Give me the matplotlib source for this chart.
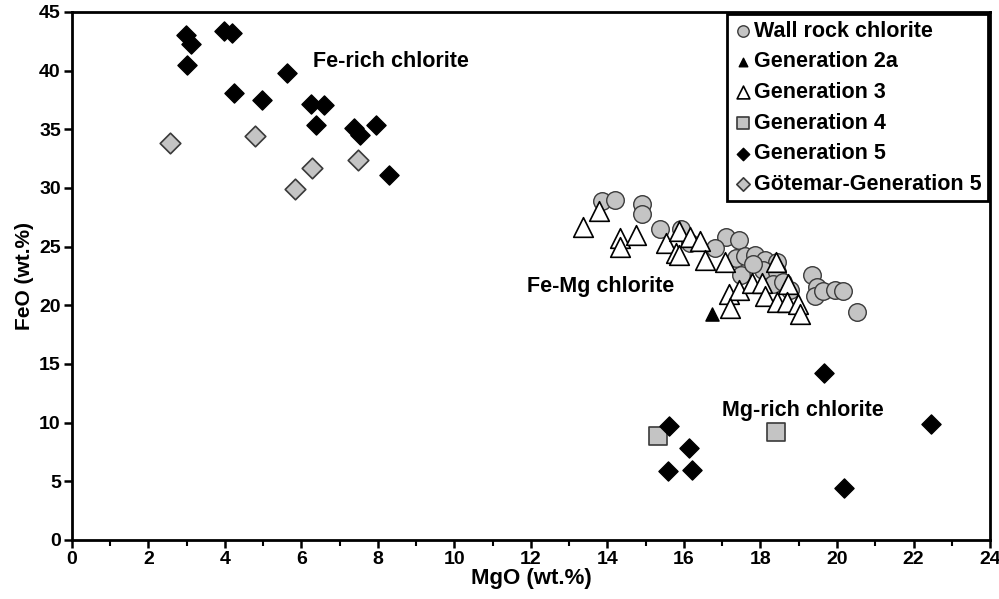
import numpy as np
import matplotlib.pyplot as plt

# Chlorite compositions, MgO vs FeO (wt.%)
wall_mgo = [13.86, 14.20, 14.90, 14.90, 15.38, 15.93, 16.15, 17.11, 17.43, 16.80,
            17.37, 17.59, 17.85, 18.12, 18.42, 17.50, 18.07, 18.42, 18.33, 19.34,
            19.47, 19.43, 19.64, 19.95, 20.17, 20.52, 17.81, 18.60, 18.77]
wall_feo = [28.9, 29.0, 28.6, 27.8, 26.5, 26.5, 25.3, 25.8, 25.6, 24.9,
            24.0, 24.2, 24.3, 23.9, 23.7, 22.6, 23.0, 22.8, 21.8, 22.6,
            21.6, 20.8, 21.2, 21.3, 21.2, 19.4, 23.5, 22.0, 21.3]

gen2a_mgo = [16.72]
gen2a_feo = [19.3]

gen3_mgo = [13.36, 13.79, 14.32, 14.32, 14.75, 15.54, 15.87, 15.80, 15.86, 16.15,
            16.41, 16.54, 17.07, 18.40, 17.18, 17.44, 17.77, 18.03, 18.73, 18.12,
            18.42, 18.68, 18.99, 19.03, 17.20]
gen3_feo = [26.7, 28.0, 25.7, 25.0, 26.0, 25.3, 26.3, 24.5, 24.3, 25.8,
            25.5, 23.9, 23.7, 23.7, 21.0, 21.3, 21.9, 21.9, 21.8, 20.8,
            20.3, 20.3, 20.1, 19.3, 19.8]

gen4_mgo = [15.32, 18.40]
gen4_feo = [8.9, 9.2]

gen5_mgo = [2.99, 3.12, 3.01, 3.97, 4.18, 4.23, 4.97, 5.62, 6.25, 6.60,
            6.37, 7.37, 7.52, 7.94, 8.29,
            19.67, 22.46, 15.61, 16.12, 15.59, 16.22, 20.18]
gen5_feo = [43.0, 42.3, 40.5, 43.4, 43.2, 38.1, 37.5, 39.8, 37.2, 37.1,
            35.4, 35.1, 34.5, 35.4, 31.1,
            14.2, 9.9, 9.7, 7.8, 5.9, 6.0, 4.4]

got_mgo = [2.57, 4.79, 5.84, 6.28, 7.49]
got_feo = [33.8, 34.4, 29.9, 31.7, 32.4]

x_ticks = np.arange(0, 25, 2)
y_ticks = np.arange(0, 46, 5)

plt.rcParams['font.family'] = ['Liberation Sans', 'DejaVu Sans']

fig = plt.figure(figsize=(9.99, 5.99), dpi=100)
ax = fig.add_axes([0.072, 0.0985, 0.919, 0.8815])

grey = '#c4c4c4'
edge = '#3a3a3a'
ax.scatter(wall_mgo, wall_feo, s=160, marker='o', facecolor=grey, edgecolor=edge,
           linewidth=1.0, label='Wall rock chlorite', zorder=3)
ax.scatter(gen3_mgo, gen3_feo, s=200, marker='^', facecolor='white', edgecolor='black',
           linewidth=1.2, label='Generation 3', zorder=4)
ax.scatter(gen2a_mgo, gen2a_feo, s=90, marker='^', facecolor='black', edgecolor='black',
           label='Generation 2a', zorder=5)
ax.scatter(gen4_mgo, gen4_feo, s=150, marker='s', facecolor=grey, edgecolor=edge,
           linewidth=1.2, label='Generation 4', zorder=5)
ax.scatter(got_mgo, got_feo, s=110, marker='D', facecolor=grey, edgecolor=edge,
           linewidth=1.2, label='Götemar-Generation 5', zorder=5)
ax.scatter(gen5_mgo, gen5_feo, s=95, marker='D', facecolor='black', edgecolor='black',
           label='Generation 5', zorder=6)

ax.set_xlim(0, 24)
ax.set_ylim(0, 45)
ax.set_xticks(x_ticks, [str(v) for v in x_ticks], fontweight='bold', fontsize=14)
ax.set_xticks(np.arange(0, 25, 1), minor=True)
ax.set_yticks(y_ticks, [str(v) for v in y_ticks], fontweight='bold', fontsize=14)
ax.tick_params(axis='both', which='major', direction='out', length=6, width=1.8, pad=2)
ax.tick_params(axis='x', which='minor', direction='out', length=4, width=1.5)
for side in ['left', 'bottom', 'top', 'right']:
    ax.spines[side].set_linewidth(2.0)

ax.set_xlabel('MgO (wt.%)', fontsize=16, fontweight='bold', labelpad=0)
ax.set_ylabel('FeO (wt.%)', fontsize=15, fontweight='bold', labelpad=4)

ax.text(6.3, 40.8, 'Fe-rich chlorite', fontsize=15.5, fontweight='bold', va='center')
ax.text(11.9, 21.6, 'Fe-Mg chlorite', fontsize=15.5, fontweight='bold', va='center')
ax.text(17.0, 11.0, 'Mg-rich chlorite', fontsize=15.5, fontweight='bold', va='center')

order = ['Wall rock chlorite', 'Generation 2a', 'Generation 3', 'Generation 4',
         'Generation 5', 'Götemar-Generation 5']
handles, labels = ax.get_legend_handles_labels()
lookup = dict(zip(labels, handles))
leg = ax.legend([lookup[k] for k in order], order, loc='upper right',
                prop={'weight': 'bold', 'size': 15.5}, frameon=True,
                fancybox=False, edgecolor='black', framealpha=1, markerscale=0.65,
                handletextpad=0.05, borderaxespad=0.1, labelspacing=0.45,
                handlelength=0.9, borderpad=0.3)
leg.get_frame().set_linewidth(2.0)

fig.savefig('out.png', dpi=100, facecolor='w')
